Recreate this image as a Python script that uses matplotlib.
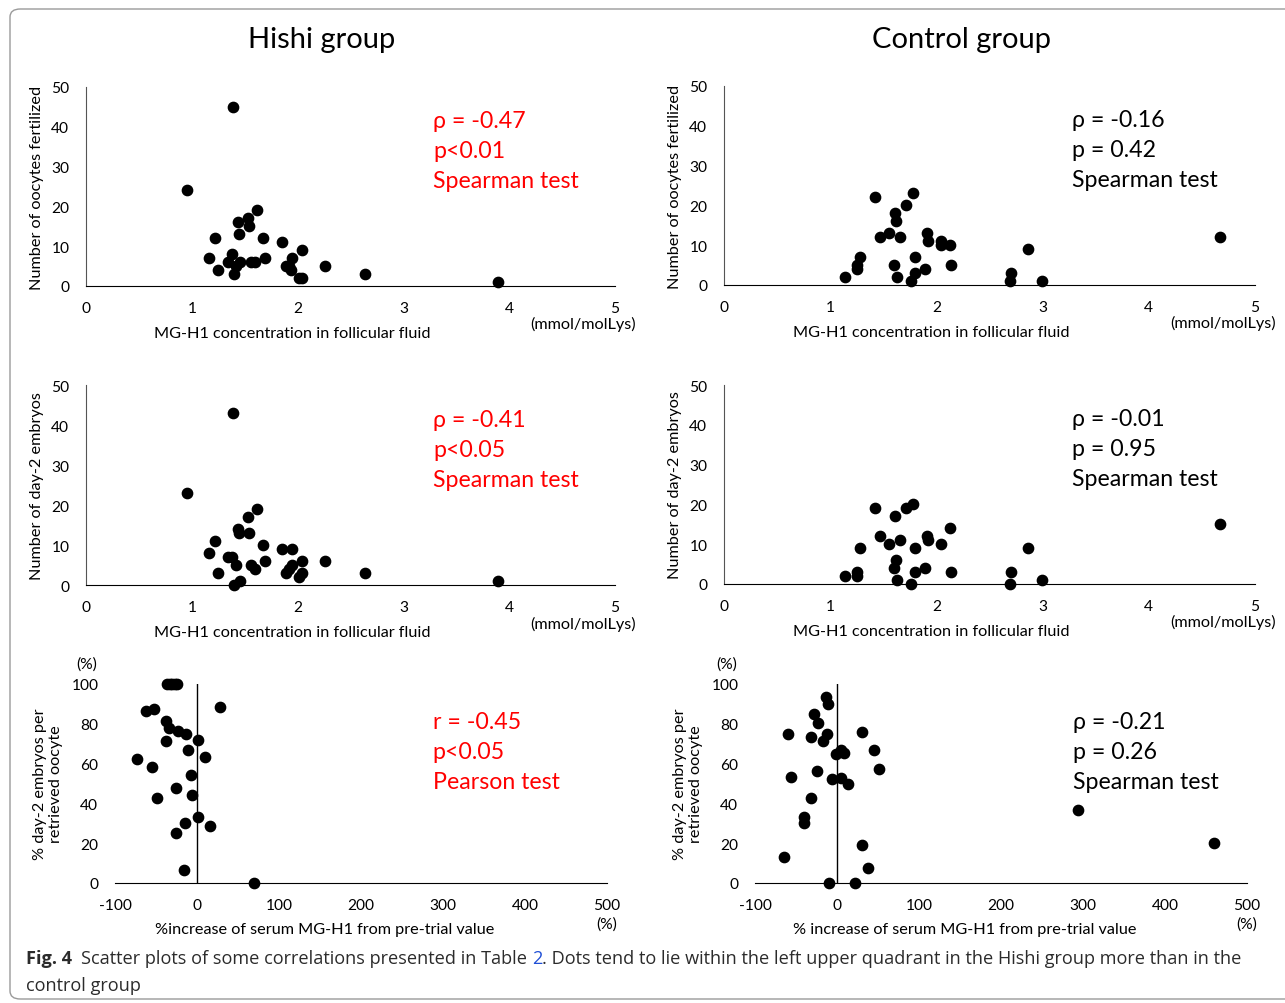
import matplotlib
matplotlib.use("Agg")
import matplotlib.pyplot as plt
from matplotlib.patches import FancyBboxPatch

plt.rcParams['font.family'] = ['Lato', 'DejaVu Sans']
plt.rcParams['axes.unicode_minus'] = False

# --- data ---
# Hishi group, MG-H1 in follicular fluid vs oocytes fertilized
hishi_fert_x = [1.39, 0.95, 1.62, 1.53, 1.44, 1.54, 1.45, 1.22, 1.67, 1.85, 2.04, 1.38, 1.16, 1.69, 1.95,
                1.34, 1.46, 1.56, 1.60, 1.42, 1.89, 1.92, 1.94, 2.26, 1.25, 1.40, 2.64, 2.01, 2.04, 3.89]
hishi_fert_y = [45, 24, 19, 17, 16, 15, 13, 12, 12, 11, 9, 8, 7, 7, 7,
                6, 6, 6, 6, 5, 5, 5, 4, 5, 4, 3, 3, 2, 2, 1]

# Hishi group, MG-H1 vs day-2 embryos
hishi_emb_x = [1.39, 0.95, 1.62, 1.53, 1.44, 1.45, 1.54, 1.22, 1.67, 1.85, 1.95, 1.16, 1.34, 1.38, 1.69,
               2.04, 2.26, 1.42, 1.56, 1.60, 1.95, 1.92, 1.89, 2.04, 2.01, 1.25, 2.64, 1.46, 1.40, 3.89]
hishi_emb_y = [43, 23, 19, 17, 14, 13, 13, 11, 10, 9, 9, 8, 7, 7, 6,
               6, 6, 5, 5, 4, 5, 4, 3, 3, 2, 3, 3, 1, 0, 1]

# Control group, MG-H1 vs oocytes fertilized
ctrl_fert_x = [1.42, 1.78, 1.71, 1.61, 1.62, 1.47, 1.55, 1.66, 1.91, 1.92, 2.04, 2.04, 2.13, 4.67, 2.86,
               1.28, 1.80, 1.25, 1.25, 1.60, 2.14, 1.89, 1.80, 2.70, 1.14, 1.63, 1.76, 2.69, 2.99]
ctrl_fert_y = [22, 23, 20, 18, 16, 12, 13, 12, 13, 11, 11, 10, 10, 12, 9,
               7, 7, 5, 4, 5, 5, 4, 3, 3, 2, 2, 1, 1, 1]

# Control group, MG-H1 vs day-2 embryos
ctrl_emb_x = [1.42, 1.71, 1.78, 1.61, 2.13, 4.67, 1.47, 1.91, 1.92, 1.66, 1.55, 2.04, 1.28, 1.80, 2.86,
              1.62, 1.60, 1.89, 1.25, 1.25, 1.14, 1.80, 2.14, 2.70, 1.63, 2.99, 1.76, 2.69]
ctrl_emb_y = [19, 19, 20, 17, 14, 15, 12, 12, 11, 11, 10, 10, 9, 9, 9,
              6, 4, 4, 3, 2, 2, 3, 3, 3, 1, 1, 0, 0]

# % increase of serum MG-H1 vs % day-2 embryos per retrieved oocyte
hishi_inc_x = [-36, -33, -30, -27, -24, 28.5, -62.6, -52.8, -37.8, -34.6, -23.2, -13.8, 0.8, -37.8,
               -10.6, 9.3, -73.6, -55.3, -7.3, -26, -49.2, -6.5, 1.6, -14.6, 15.4, -26, -15.9, 69.1]
hishi_inc_y = [100, 100, 100, 100, 100, 88.6, 86.2, 87.4, 81.2, 77.8, 76.5, 75.1, 72.1, 71.4,
               66.6, 63.5, 62.5, 58.5, 54.3, 47.7, 42.7, 44.4, 33.3, 29.9, 28.4, 24.9, 6.6, 0]

ctrl_inc_x = [-13.4, -10.6, -27.6, -23.2, -59.3, -31.3, -11.8, -17.5, 30.9, -1.2, 4.9, 8.5, 45.5, 50.8,
              -24, -55.7, -6.1, 5.3, 13, -31.3, -40.7, -40.2, 30.9, -64.2, 38.2, -9.3, 22.4, 294, 460]
ctrl_inc_y = [93.4, 89.9, 84.7, 80.2, 75.1, 73.3, 75.1, 71.4, 76.0, 65, 66.6, 65.4, 66.6, 57.1,
              56.1, 53.1, 52.1, 52.6, 49.9, 42.9, 33.4, 29.9, 19.2, 13.3, 7.6, 0, 0, 36.7, 20.1]

stats_hishi = [["ρ = -0.47", "p<0.01", "Spearman test"],
               ["ρ = -0.41", "p<0.05", "Spearman test"],
               ["r = -0.45", "p<0.05", "Pearson test"]]
stats_ctrl = [["ρ = -0.16", "p = 0.42", "Spearman test"],
              ["ρ = -0.01", "p = 0.95", "Spearman test"],
              ["ρ = -0.21", "p = 0.26", "Spearman test"]]

W, H = 1285, 1004
fig = plt.figure(figsize=(W / 100, H / 100), dpi=100)

TICK = 11.2
LAB = 11.7


def px_axes(left, top, right, bottom):
    # pixel box -> figure fraction
    return fig.add_axes([left / W, 1 - bottom / H, (right - left) / W, (bottom - top) / H])


def mg_panel(ax, x, y, ylabel, stats, color):
    ax.scatter(x, y, s=55, color='black', zorder=3, clip_on=False)
    ax.set_xlim(0, 5)
    ax.set_ylim(0, 50)
    ax.set_xticks(range(6))
    ax.set_yticks(range(0, 51, 10))
    ax.tick_params(length=0, labelsize=TICK, pad=12)
    ax.tick_params(axis='x', pad=11)
    for s in ['top', 'right']:
        ax.spines[s].set_visible(False)
    ax.spines['left'].set_color('#555555')
    ax.set_xlabel('MG-H1 concentration in follicular fluid', fontsize=LAB, va='center')
    ax.xaxis.set_label_coords(0.39, -0.235)
    ax.set_ylabel(ylabel, fontsize=LAB, va='center')
    ax.yaxis.set_label_coords(-0.092, 0.5)
    ax.text(0.94, -0.19, '(mmol/molLys)', transform=ax.transAxes, ha='center',
            va='center', fontsize=LAB)
    for i, line in enumerate(stats):
        ax.text(0.656, 0.83 - i * 0.151, line, transform=ax.transAxes,
                fontsize=16.7, color=color, va='center')


def inc_panel(ax, x, y, xlabel, stats, color):
    ax.scatter(x, y, s=55, color='black', zorder=3, clip_on=False)
    ax.set_xlim(-100, 500)
    ax.set_ylim(0, 100)
    ax.set_xticks(range(-100, 501, 100))
    ax.set_yticks(range(0, 101, 20))
    ax.axvline(0, color='black', lw=1, zorder=2)
    ax.tick_params(length=0, labelsize=TICK, pad=12)
    ax.tick_params(axis='x', pad=11)
    for s in ['top', 'right', 'left']:
        ax.spines[s].set_visible(False)
    ax.text(-0.057, 1.105, '(%)', transform=ax.transAxes, ha='center', va='center', fontsize=TICK)
    ax.text(1.0, -0.206, '(%)', transform=ax.transAxes, ha='center', va='center', fontsize=TICK)
    ax.set_xlabel(xlabel, fontsize=LAB, va='center')
    ax.xaxis.set_label_coords(0.427, -0.231)
    ax.set_ylabel('% day-2 embryos per\nretrieved oocyte', fontsize=LAB, va='center')
    ax.yaxis.set_label_coords(-0.136, 0.5)
    for i, line in enumerate(stats):
        ax.text(0.646, 0.81 - i * 0.151, line, transform=ax.transAxes,
                fontsize=16.7, color=color, va='center')


ax1 = px_axes(86, 88, 615, 287)
mg_panel(ax1, hishi_fert_x, hishi_fert_y, 'Number of oocytes fertilized', stats_hishi[0], 'red')
ax2 = px_axes(724, 87, 1255, 286)
mg_panel(ax2, ctrl_fert_x, ctrl_fert_y, 'Number of oocytes fertilized', stats_ctrl[0], 'black')
ax3 = px_axes(86, 386, 615, 586)
mg_panel(ax3, hishi_emb_x, hishi_emb_y, 'Number of day-2 embryos', stats_hishi[1], 'red')
ax4 = px_axes(724, 386, 1255, 585)
mg_panel(ax4, ctrl_emb_x, ctrl_emb_y, 'Number of day-2 embryos', stats_ctrl[1], 'black')

ax5 = px_axes(115, 685, 607, 884)
inc_panel(ax5, hishi_inc_x, hishi_inc_y, '%increase of serum MG-H1 from pre-trial value',
          stats_hishi[2], 'red')
ax6 = px_axes(755, 685, 1247, 884)
inc_panel(ax6, ctrl_inc_x, ctrl_inc_y, '% increase of serum MG-H1 from pre-trial value',
          stats_ctrl[2], 'black')

fig.text(322 / W, 1 - 40 / H, 'Hishi group', ha='center', va='center', fontsize=21)
fig.text(962 / W, 1 - 40 / H, 'Control group', ha='center', va='center', fontsize=21)

# frame round the figure
frame = FancyBboxPatch((10 / W, 4 / H), 1.05, 1 - 14 / H, transform=fig.transFigure,
                       boxstyle='round,pad=0,rounding_size=0.008', fill=False,
                       edgecolor='#9a9a9a', lw=1)
fig.add_artist(frame)

# caption, pieced together so "2" can be blue
cap_kw = dict(fontsize=13.1, color='#2b2b2b', va='center', family=['Open Sans', 'DejaVu Sans'])
fig.canvas.draw()
r = fig.canvas.get_renderer()
t = fig.text(26 / W, 1 - 959 / H, 'Fig. 4', fontweight='bold', **cap_kw)
x = t.get_window_extent(r).x1 + 9
parts = [('Scatter plots of some correlations presented in Table ', '#2b2b2b'),
         ('2', '#1f4fd6'),
         ('. Dots tend to lie within the left upper quadrant in the Hishi group more than in the', '#2b2b2b')]
for txt, c in parts:
    kw = dict(cap_kw)
    kw['color'] = c
    t = fig.text(x / W, 1 - 959 / H, txt, **kw)
    x = t.get_window_extent(r).x1
fig.text(26 / W, 1 - 986 / H, 'control group', **cap_kw)

fig.savefig('out.png', dpi=100)
